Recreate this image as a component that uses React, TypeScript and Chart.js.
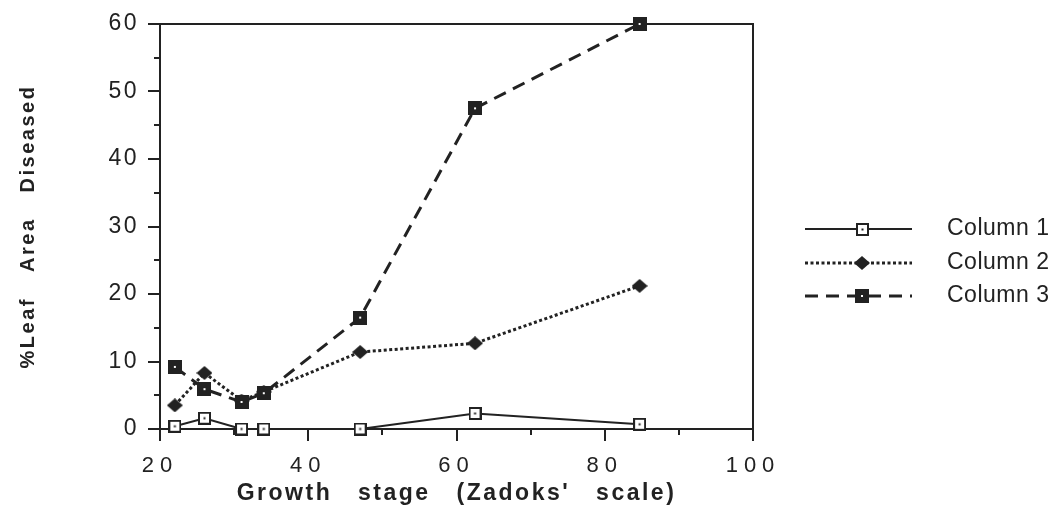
import React, { useEffect, useRef } from "react";
import { Chart, registerables } from "chart.js";

Chart.register(...registerables);

const growthStage = [22, 26, 31, 34, 47, 62.5, 84.7];
const column1 = [0.4, 1.6, 0, 0, 0, 2.3, 0.7];
const column2 = [3.5, 8.3, 4.2, 5.5, 11.4, 12.7, 21.2];
const column3 = [9.2, 5.9, 4.0, 5.3, 16.5, 47.5, 60];
const seriesNames = ["Column 1", "Column 2", "Column 3"];
const xMajorTicks = [20, 40, 60, 80, 100];
const xMinorTicks = [30, 50, 70, 90];
const yMajorTicks = [0, 10, 20, 30, 40, 50, 60];
const yMinorTicks = [5, 15, 25, 35, 45, 55];
const xTitle = "Growth stage (Zadoks' scale)";
const yTitle = "%Leaf Area Diseased";

const INK = "#222";
const FAMILY = "'Liberation Sans', Arial, sans-serif";

function makeMarker(kind: string): HTMLCanvasElement {
  const c = document.createElement("canvas");
  const g = c.getContext("2d") as CanvasRenderingContext2D;
  if (kind === "open") {
    c.width = 13; c.height = 13;
    g.fillStyle = "#fff"; g.fillRect(0, 0, 13, 13);
    g.strokeStyle = INK; g.lineWidth = 2; g.strokeRect(1, 1, 11, 11);
    g.fillStyle = INK; g.fillRect(5.5, 5.5, 2, 2);
  } else if (kind === "filled") {
    c.width = 14; c.height = 14;
    g.fillStyle = INK; g.fillRect(0, 0, 14, 14);
    g.fillStyle = "#fff"; g.fillRect(6, 6, 2, 2);
  } else {
    c.width = 16; c.height = 14;
    g.fillStyle = INK;
    g.beginPath();
    g.moveTo(8, 0); g.lineTo(16, 7); g.lineTo(8, 14); g.lineTo(0, 7);
    g.closePath(); g.fill();
  }
  return c;
}

const pts = (ys: number[]) => growthStage.map((x, i) => ({ x, y: ys[i] }));

export default function App() {
  const ref = useRef<HTMLCanvasElement | null>(null);

  useEffect(() => {
    if (!ref.current) return;
    const markers = [makeMarker("open"), makeMarker("diamond"), makeMarker("filled")];

    const framePlugin = {
      id: "frame",
      beforeDraw(chart: any) {
        const ctx = chart.ctx;
        ctx.letterSpacing = "2.5px";
        ctx.wordSpacing = "17px";
      },
      beforeDatasetsDraw(chart: any) {
        const ctx = chart.ctx;
        const { left, right, top, bottom } = chart.chartArea;
        const xs = chart.scales.x;
        const ys = chart.scales.y;
        ctx.save();
        ctx.strokeStyle = INK;
        ctx.lineWidth = 2;
        ctx.beginPath();
        ctx.moveTo(left, top);
        ctx.lineTo(right, top);
        ctx.lineTo(right, bottom);
        ctx.stroke();
        ctx.beginPath();
        yMinorTicks.forEach((v) => {
          const p = Math.round(ys.getPixelForValue(v));
          ctx.moveTo(left - 6, p);
          ctx.lineTo(left, p);
        });
        xMinorTicks.forEach((v) => {
          const p = Math.round(xs.getPixelForValue(v));
          ctx.moveTo(p, bottom);
          ctx.lineTo(p, bottom + 6);
        });
        ctx.stroke();
        ctx.restore();
      },
      afterDatasetsDraw(chart: any) {
        const ctx = chart.ctx;
        ctx.letterSpacing = "6px";
        ctx.wordSpacing = "0px";
      },
      afterDraw(chart: any) {
        const ctx = chart.ctx;
        ctx.letterSpacing = "0px";
        ctx.wordSpacing = "0px";
        const rows = [229, 263, 296];
        chart.data.datasets.forEach((d: any, i: number) => {
          const y = rows[i];
          ctx.save();
          ctx.strokeStyle = INK;
          ctx.lineWidth = d.borderWidth;
          ctx.setLineDash(d.borderDash || []);
          ctx.beginPath();
          ctx.moveTo(805, y);
          ctx.lineTo(912, y);
          ctx.stroke();
          ctx.setLineDash([]);
          const m = d.pointStyle as HTMLCanvasElement;
          ctx.drawImage(m, Math.round(862 - m.width / 2), Math.round(y - m.height / 2));
          ctx.font = `23px ${FAMILY}`;
          ctx.letterSpacing = "0.5px";
          ctx.fillStyle = INK;
          ctx.textBaseline = "middle";
          ctx.textAlign = "left";
          ctx.fillText(d.label, 947, y);
          ctx.restore();
        });
      },
    };

    const chart = new Chart(ref.current, {
      type: "line",
      data: {
        datasets: [
          {
            label: seriesNames[0],
            data: pts(column1),
            borderColor: INK,
            borderWidth: 2,
            pointStyle: markers[0] as any,
            pointRadius: 6,
            order: 2,
            clip: false as any,
          },
          {
            label: seriesNames[1],
            data: pts(column2),
            borderColor: INK,
            borderWidth: 3,
            borderDash: [3, 2.5],
            pointStyle: markers[1] as any,
            pointRadius: 6,
            order: 1,
            clip: false as any,
          },
          {
            label: seriesNames[2],
            data: pts(column3),
            borderColor: INK,
            borderWidth: 3,
            borderDash: [13, 8],
            pointStyle: markers[2] as any,
            pointRadius: 6,
            order: 0,
            clip: false as any,
          },
        ],
      },
      options: {
        responsive: false,
        animation: false,
        events: [],
        layout: { padding: { left: 0, top: 24, right: 307, bottom: 0 } },
        plugins: {
          legend: { display: false },
          tooltip: { enabled: false },
          title: { display: false },
        },
        scales: {
          x: {
            type: "linear",
            min: 20,
            max: 100,
            afterBuildTicks: (s: any) => {
              s.ticks = xMajorTicks.map((v) => ({ value: v }));
            },
            afterFit: (s: any) => {
              s.height = 83;
            },
            grid: { drawOnChartArea: false, drawTicks: true, tickLength: 12, color: INK, lineWidth: 2 },
            border: { display: true, color: INK, width: 2 },
            ticks: {
              font: { family: FAMILY, size: 22 },
              color: INK,
              padding: 12,
              z: 1,
              maxRotation: 0,
              autoSkip: false,
            },
            title: {
              display: true,
              text: xTitle,
              font: { family: FAMILY, size: 23, weight: "bold" },
              color: INK,
              padding: { top: 0, bottom: 5 },
            },
          },
          y: {
            type: "linear",
            min: 0,
            max: 60,
            afterBuildTicks: (s: any) => {
              s.ticks = yMajorTicks.map((v) => ({ value: v }));
            },
            afterFit: (s: any) => {
              s.width = 160;
            },
            grid: { drawOnChartArea: false, drawTicks: true, tickLength: 12, color: INK, lineWidth: 2 },
            border: { display: true, color: INK, width: 2 },
            ticks: {
              font: { family: FAMILY, size: 23 },
              color: INK,
              padding: 9,
              autoSkip: false,
            },
            title: {
              display: true,
              text: yTitle,
              font: { family: FAMILY, size: 20, weight: "bold" },
              color: INK,
              padding: { top: 16, bottom: 0 },
            },
          },
        },
      } as any,
      plugins: [framePlugin],
    });

    return () => chart.destroy();
  }, []);

  return (
    <div style={{ position: "fixed", left: 0, top: 0, width: 1060, height: 512, background: "#fff" }}>
      <canvas ref={ref} width={1060} height={512} style={{ display: "block", width: 1060, height: 512 }} />
    </div>
  );
}
